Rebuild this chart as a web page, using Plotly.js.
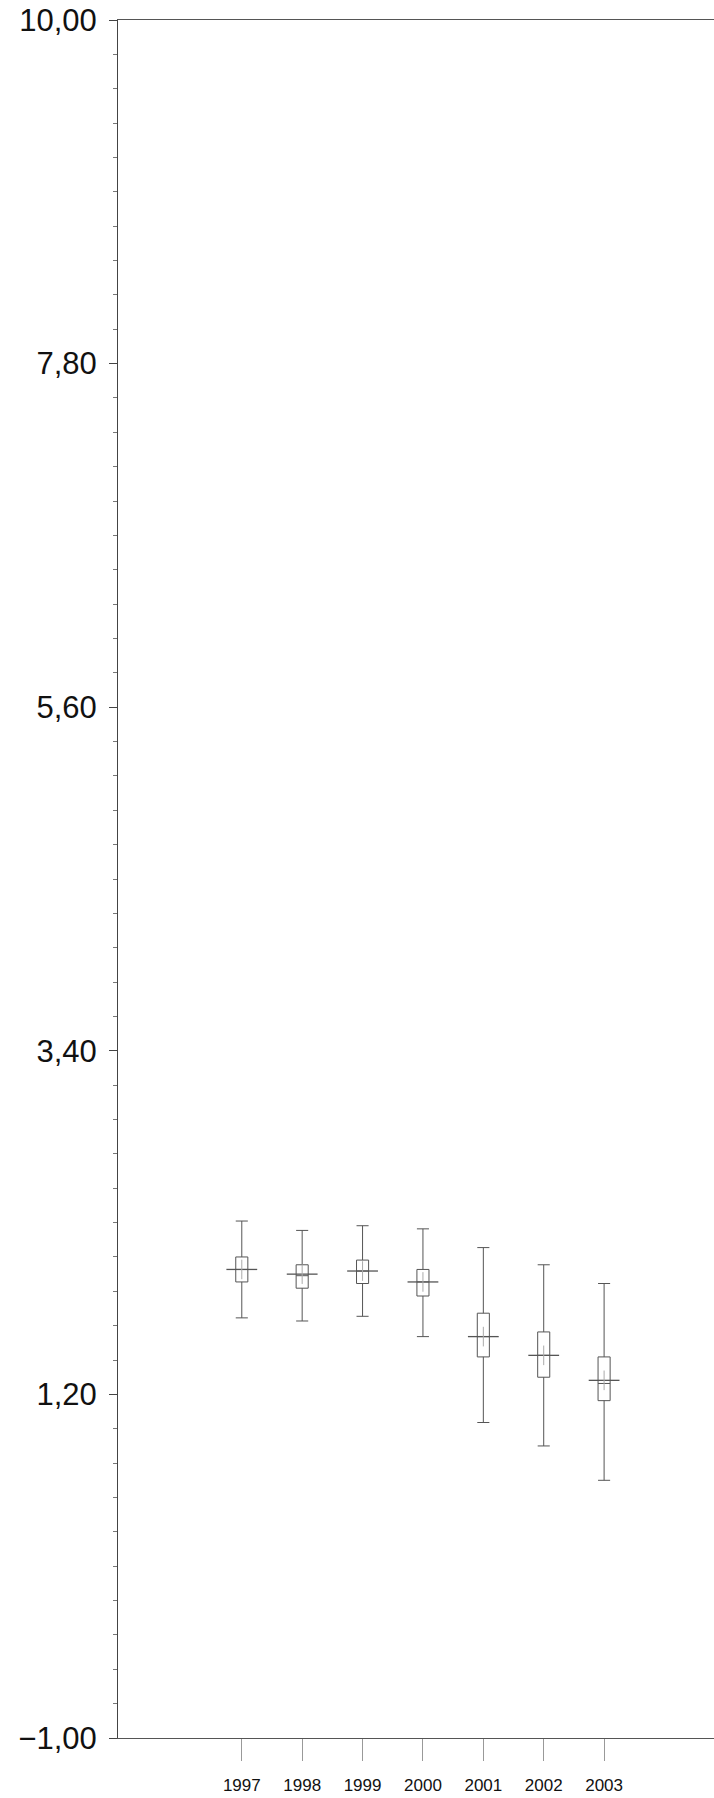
<!DOCTYPE html>
<html>
<head>
<meta charset="utf-8">
<script src="https://cdn.plot.ly/plotly-3.0.1.min.js"></script>
<style>
  html, body { margin: 0; padding: 0; background: #fff; }
  #chart { width: 714px; height: 1798px; }
</style>
</head>
<body>
<div id="chart"></div>
<script>
// ---- data ----
const years      = ['1997', '1998', '1999', '2000', '2001', '2002', '2003'];
const upperFence = [2.31, 2.25, 2.28, 2.26, 2.14, 2.03, 1.91];
const q3Values   = [2.08, 2.03, 2.06, 2.00, 1.72, 1.60, 1.44];
const medians    = [2.00, 1.96, 1.99, 1.92, 1.57, 1.45, 1.27];
const means      = [2.00, 1.97, 1.99, 1.92, 1.57, 1.45, 1.29];
const q1Values   = [1.92, 1.88, 1.91, 1.83, 1.44, 1.31, 1.16];
const lowerFence = [1.69, 1.67, 1.70, 1.57, 1.02, 0.87, 0.65];
const yTickVals   = [-1, 1.2, 3.4, 5.6, 7.8, 10];
const yTickLabels = ['\u22121,00', '1,20', '3,40', '5,60', '7,80', '10,00'];

const xPos = years.map((_, i) => i);

const boxTrace = {
  type: 'box',
  x: xPos,
  q1: q1Values,
  median: medians,
  q3: q3Values,
  lowerfence: lowerFence,
  upperfence: upperFence,
  width: 0.2,
  whiskerwidth: 1,
  fillcolor: 'rgba(255,255,255,0)',
  line: { color: '#555', width: 1 },
  hoverinfo: 'skip',
  showlegend: false
};

const meanH = {
  type: 'scatter', mode: 'markers',
  x: xPos, y: means,
  marker: { symbol: 'line-ew', size: 22, line: { color: '#555', width: 1.3 } },
  hoverinfo: 'skip', showlegend: false
};
const meanV = {
  type: 'scatter', mode: 'markers',
  x: xPos, y: means,
  marker: { symbol: 'line-ns', size: 14, line: { color: '#aaa', width: 1 } },
  hoverinfo: 'skip', showlegend: false
};

const layout = {
  width: 714, height: 1798,
  margin: { l: 118, r: 0, t: 20, b: 60 },
  paper_bgcolor: '#fff', plot_bgcolor: '#fff',
  showlegend: false,
  xaxis: {
    range: [-2.05, 7.82],
    tickmode: 'array', tickvals: xPos, ticktext: years,
    ticks: 'outside', ticklen: 22, tickwidth: 1, tickcolor: '#999',
    ticklabelstandoff: 10,
    showline: true, linecolor: '#555', linewidth: 1, mirror: true,
    showgrid: false, zeroline: false,
    tickfont: { family: 'Liberation Sans, Arial, sans-serif', size: 17, color: '#111' }
  },
  yaxis: {
    range: [-1, 10],
    tickmode: 'array', tickvals: yTickVals, ticktext: yTickLabels,
    ticks: 'outside', ticklen: 8, tickwidth: 1, tickcolor: '#444',
    ticklabelstandoff: 6,
    minor: { tick0: -1, dtick: 0.22, ticks: 'outside', ticklen: 4, tickcolor: '#777', tickwidth: 1 },
    showline: true, linecolor: '#444', linewidth: 1,
    showgrid: false, zeroline: false,
    tickfont: { family: 'Liberation Sans, Arial, sans-serif', size: 31, color: '#111' }
  }
};

Plotly.newPlot('chart', [boxTrace, meanH, meanV], layout, { staticPlot: true, displayModeBar: false });
</script>
</body>
</html>
